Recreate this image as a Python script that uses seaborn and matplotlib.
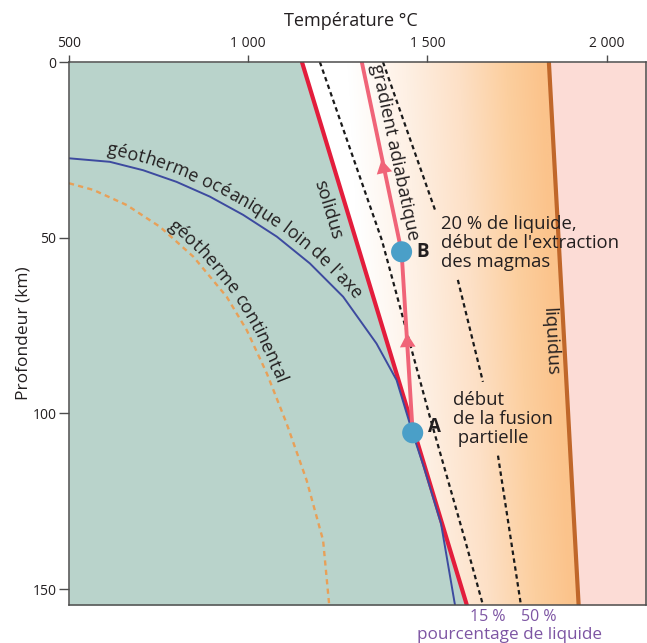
import numpy as np
import matplotlib
matplotlib.use('Agg')
import matplotlib.pyplot as plt
import seaborn as sns
from matplotlib.patches import Polygon
from matplotlib.transforms import IdentityTransform
from matplotlib.font_manager import FontProperties

# data (temperature in °C, depth in km)
depth_edges = np.array([0, 154.5])
solidus_T = np.array([1150, 1610])
liquidus_T = np.array([1839, 1922])

pct15_T = [1200, 1373, 1507, 1605, 1655]
pct15_d = [0, 50.7, 101, 136, 154.5]
# 50 % line is interrupted where the labels sit
pct50_T = [1376, 1521, np.nan, 1585, 1655, np.nan, 1697, 1761]
pct50_d = [0, 42, np.nan, 62, 91, np.nan, 112, 154.5]

oceanic_T = [500, 614, 707, 800, 893, 986, 1080, 1172, 1265, 1358, 1414, 1459, 1490, 1538, 1577]
oceanic_d = [27.4, 28.4, 30.8, 34.1, 38.3, 43.5, 49.7, 57.3, 66.8, 80.1, 90.5, 105.6, 115.2, 131.3, 154.5]
continental_T = [500, 568, 661, 754, 847, 940, 996, 1052, 1107, 1163, 1209, 1226]
continental_d = [34.5, 36.4, 40.7, 46.9, 55.4, 66.8, 76.3, 88.6, 102.8, 119.0, 136.1, 154.5]

adiab_T = [1317, 1428, 1459]
adiab_d = [0, 54, 105.5]
arrow_T = [1376, 1444]
arrow_d = [30.2, 79.7]
arrow_rot = [12, 3]
point_T = [1428, 1459]
point_d = [54, 105.5]
point_names = ['B', 'A']

x_ticks = [500, 1000, 1500, 2000]
x_tick_labels = ['500', '1 000', '1 500', '2 000']
y_ticks = [0, 50, 100, 150]

# orange shading, as a function of distance to the liquidus (°C)
grad_dist = [20, 120, 250, 400, 560]
grad_colors = ['#fbc38b', '#fccf9f', '#fde0c6', '#fef0e4', '#ffffff']

green = '#b9d3cb'
pink = '#fcdcd6'
dark = '#231f20'
purple = '#7d55a3'

sns.set_theme(style='white')
plt.rcParams['font.family'] = ['Open Sans', 'DejaVu Sans']

fig = plt.figure(figsize=(6.47, 6.43), dpi=100)
ax = fig.add_axes([69/647, 1 - 605/643, (646 - 69)/647, (605 - 62)/643])
T_min, T_max = 500, 2110
ax.set_xlim(T_min, T_max)
ax.set_ylim(depth_edges[1], 0)

# background zones
ax.fill_betweenx(depth_edges, T_min, solidus_T, color=green, lw=0, zorder=0)
ax.fill_betweenx(depth_edges, liquidus_T, T_max, color=pink, lw=0, zorder=0)

Tg = np.linspace(T_min, T_max, 800)
dg = np.linspace(0, depth_edges[1], 200)
dist = np.interp(dg, depth_edges, liquidus_T)[:, None] - Tg[None, :]
rgb = np.array([matplotlib.colors.to_rgb(c) for c in grad_colors])
img = np.stack([np.interp(dist, grad_dist, rgb[:, k]) for k in range(3)], axis=-1)
im = ax.imshow(img, extent=[T_min, T_max, depth_edges[1], 0], origin='upper',
               aspect='auto', zorder=0.5, interpolation='bilinear')
zone = Polygon([(solidus_T[0], 0), (solidus_T[1], depth_edges[1]),
                (liquidus_T[1], depth_edges[1]), (liquidus_T[0], 0)],
               closed=True, transform=ax.transData)
im.set_clip_path(zone)
ax.set_xlim(T_min, T_max)
ax.set_ylim(depth_edges[1], 0)
ax.set_aspect('auto')

# lines
sns.lineplot(x=continental_T, y=continental_d, color='#e8a058', lw=1.7,
             sort=False, estimator=None, ax=ax, zorder=2,
             linestyle=(0, (2.2, 1.8)))
sns.lineplot(x=oceanic_T, y=oceanic_d, color='#3d4a9f', lw=1.4,
             sort=False, estimator=None, ax=ax, zorder=4)
ax.plot(pct15_T, pct15_d, color='#1a1a1a', lw=1.6, ls=(0, (2.0, 1.6)), zorder=2)
ax.plot(pct50_T, pct50_d, color='#1a1a1a', lw=1.6, ls=(0, (2.0, 1.6)), zorder=2)
sns.lineplot(x=solidus_T, y=depth_edges, color='#e31d3c', lw=3,
             sort=False, estimator=None, ax=ax, zorder=3)
sns.lineplot(x=liquidus_T, y=depth_edges, color='#c0672a', lw=3,
             sort=False, estimator=None, ax=ax, zorder=3)
sns.lineplot(x=adiab_T, y=adiab_d, color='#f06478', lw=2.8,
             sort=False, estimator=None, ax=ax, zorder=5)
for t, d, r in zip(arrow_T, arrow_d, arrow_rot):
    ax.plot([t], [d], marker=(3, 0, r), ms=13, color='#f06478', mec='none', zorder=5)
ax.scatter(point_T, point_d, s=230, color='#4a9fc8', edgecolors='none', zorder=6)

# straight labels
lab = dict(color=dark, fontsize=13.3)
ax.text(1223, 42.1, 'solidus', rotation=-73, ha='center', va='center', **lab)
ax.text(1842, 79.7, 'liquidus', rotation=-87, ha='center', va='center', **lab)
ax.text(1407, 25.6, 'gradient adiabatique', rotation=-78, ha='center', va='center', **lab)
ax.text(1538, 51.5, "20 % de liquide,\ndébut de l'extraction\ndes magmas",
        ha='left', va='center', linespacing=1.08, **lab)
ax.text(1571, 101.6, 'début\nde la fusion\n partielle', ha='left', va='center',
        linespacing=1.1, **lab)
ax.text(1488, 54.1, point_names[0], ha='center', va='center', color=dark,
        fontsize=13.5, fontweight='bold')
ax.text(1521, 103.9, point_names[1], ha='center', va='center', color=dark,
        fontsize=13.5, fontweight='bold')
ax.text(1669, 157.9, '15 %', ha='center', va='center', color=purple, fontsize=11.5, clip_on=False)
ax.text(1811, 157.9, '50 %', ha='center', va='center', color=purple, fontsize=11.5, clip_on=False)
ax.text(1730, 163.0, 'pourcentage de liquide', ha='center', va='center', color=purple,
        fontsize=12.3, clip_on=False)


def curved_label(xs, ys, text, start_T, offset, size=13):
    renderer = fig.canvas.get_renderer()
    pts = ax.transData.transform(np.column_stack([xs, ys]))
    s = np.concatenate([[0], np.cumsum(np.hypot(*np.diff(pts, axis=0).T))])
    s0 = np.interp(start_T, xs, s)
    prop = FontProperties(family=['Open Sans', 'DejaVu Sans'], size=size)

    def width(t):
        return renderer.get_text_width_height_descent(t, prop, ismath=False)[0]

    def at(q):
        return np.array([np.interp(q, s, pts[:, 0]), np.interp(q, s, pts[:, 1])])

    wx = width('x')
    for i, ch in enumerate(text):
        if ch == ' ':
            continue
        left = width(text[:i] + 'x') - wx
        right = width(text[:i + 1] + 'x') - wx
        sc = s0 + (left + right) / 2
        tan = at(sc + 8) - at(sc - 8)
        tan /= np.hypot(*tan)
        pos = at(sc) + np.array([-tan[1], tan[0]]) * offset
        ax.text(pos[0], pos[1], ch, transform=IdentityTransform(),
                rotation=np.degrees(np.arctan2(tan[1], tan[0])),
                rotation_mode='anchor', ha='center', va='baseline',
                fontproperties=prop, color=dark, zorder=7)


curved_label(oceanic_T, oceanic_d, "géotherme océanique loin de l'axe", 600, 7)
curved_label(continental_T, continental_d, 'géotherme continental', 765, 5)

# axes
ax.xaxis.tick_top()
ax.xaxis.set_label_position('top')
ax.set_xticks(x_ticks)
ax.set_xticklabels(x_tick_labels)
ax.set_yticks(y_ticks)
ax.tick_params(axis='x', top=True, bottom=False, direction='out', length=5, width=1,
               color='#4d4d4d', labelsize=10, labelcolor=dark, pad=3)
ax.tick_params(axis='y', left=True, direction='out', length=7, width=1,
               color='#4d4d4d', labelsize=10, labelcolor=dark, pad=2)
ax.set_xlabel('Température °C', fontsize=13, color=dark, labelpad=7, x=0.488)
ax.set_ylabel('Profondeur (km)', fontsize=12.5, color=dark, labelpad=1)
for sp in ax.spines.values():
    sp.set_color('#4d4d4d')
    sp.set_linewidth(1.1)
    sp.set_zorder(8)
ax.grid(False)

fig.savefig('out.png', dpi=100)
